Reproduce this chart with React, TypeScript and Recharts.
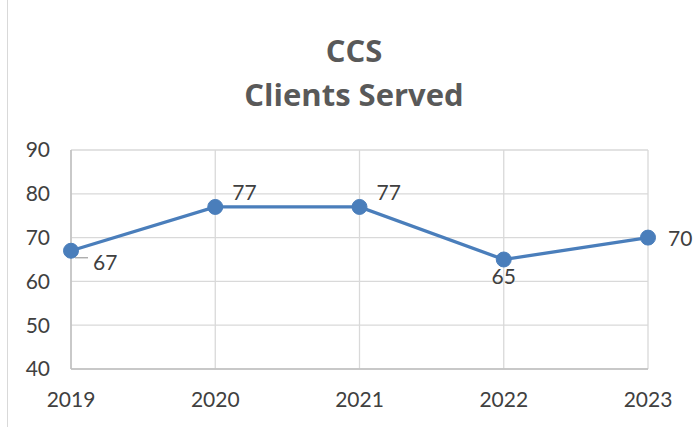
import React from "react";
import { LineChart, Line, XAxis, YAxis, CartesianGrid, LabelList } from "recharts";

const years = ["2019", "2020", "2021", "2022", "2023"];
const clientsServed = [67, 77, 77, 65, 70];
const yTicks = [40, 50, 60, 70, 80, 90];
const labelPlacement = ["rightBelow", "aboveRight", "aboveRight", "below", "right"];

const data = years.map((y, i) => ({ year: y, value: clientsServed[i] }));

const FONT = "Lato, 'Open Sans', sans-serif";
const TITLE_FONT = "'Open Sans', Lato, sans-serif";
const TEXT = "#404040";

const PointLabel = (props: any) => {
  const { x, y, value, index } = props;
  const place = labelPlacement[index];
  let tx = x, ty = y, anchor: any = "start";
  let leader: React.ReactNode = null;
  if (place === "rightBelow") {
    tx = x + 22; ty = y + 19;
    leader = <polyline points={`${x + 4},${y + 7} ${x + 17},${y + 7}`} stroke="#a6a6a6" strokeWidth={1.3} fill="none" />;
  } else if (place === "aboveRight") {
    tx = x + 17; ty = y - 7;
  } else if (place === "below") {
    tx = x; ty = y + 24; anchor = "middle";
  } else if (place === "right") {
    tx = x + 20; ty = y + 8;
  }
  return (
    <g>
      {leader}
      <text x={tx} y={ty} textAnchor={anchor} fontSize={21} fontFamily={FONT} fill={TEXT}>{value}</text>
    </g>
  );
};

export default function App() {
  return (
    <div style={{ position: "absolute", left: 0, top: 0, width: 693, height: 427, background: "#fff" }}>
      <svg width={693} height={427} style={{ position: "absolute", left: 0, top: 0 }}>
        <line x1={7.5} y1={0} x2={7.5} y2={427} stroke="#d9d9d9" strokeWidth={1} />
        <text x={354} y={62} textAnchor="middle" fontSize={31} fontWeight="bold" fontFamily={TITLE_FONT} fill="#595959">CCS</text>
        <text x={354} y={106} textAnchor="middle" fontSize={31} fontWeight="bold" fontFamily={TITLE_FONT} fill="#595959">Clients Served</text>
      </svg>
      <div style={{ position: "absolute", left: 0, top: 0 }}>
        <LineChart width={693} height={427} data={data} margin={{ top: 150, right: 45, bottom: 0, left: 0 }}>
          <CartesianGrid stroke="#d9d9d9" strokeWidth={1.3} vertical={true} horizontal={true} />
          <XAxis
            dataKey="year"
            height={58}
            axisLine={{ stroke: "#bfbfbf", strokeWidth: 1.5 }}
            tickLine={false}
            tickSize={0}
            tickMargin={23}
            tick={{ fontSize: 21, fill: TEXT, fontFamily: FONT }}
            interval={0}
          />
          <YAxis
            domain={[40, 90]}
            ticks={yTicks}
            width={71}
            axisLine={{ stroke: "#bfbfbf", strokeWidth: 1.5 }}
            tickLine={false}
            tickSize={0}
            tickMargin={21}
            tick={{ fontSize: 21, fill: TEXT, fontFamily: FONT }}
            interval={0}
          />
          <Line
            type="linear"
            dataKey="value"
            stroke="#4a7ebb"
            strokeWidth={3.3}
            dot={{ r: 7.5, fill: "#4a7ebb", stroke: "#4a7ebb", strokeWidth: 1 }}
            activeDot={false}
            isAnimationActive={false}
          >
            <LabelList dataKey="value" content={<PointLabel />} />
          </Line>
        </LineChart>
      </div>
    </div>
  );
}
